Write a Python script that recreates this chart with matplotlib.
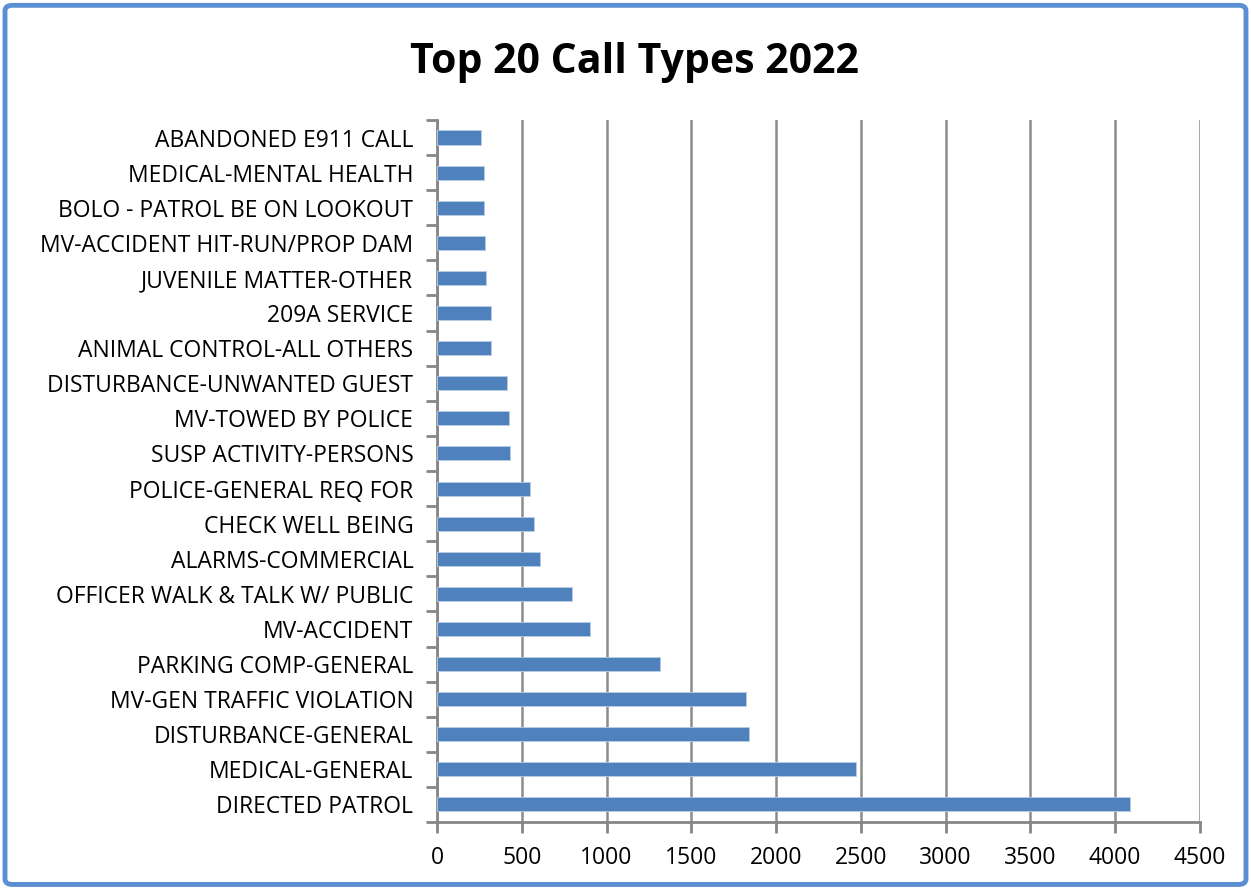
import numpy as np
import matplotlib
matplotlib.use('Agg')
import matplotlib.pyplot as plt
from matplotlib.patches import FancyBboxPatch

# Call types, bottom to top as drawn
call_types = ['DIRECTED PATROL', 'MEDICAL-GENERAL', 'DISTURBANCE-GENERAL',
              'MV-GEN TRAFFIC VIOLATION', 'PARKING COMP-GENERAL', 'MV-ACCIDENT',
              'OFFICER WALK & TALK W/ PUBLIC', 'ALARMS-COMMERCIAL', 'CHECK WELL BEING',
              'POLICE-GENERAL REQ FOR', 'SUSP ACTIVITY-PERSONS', 'MV-TOWED BY POLICE',
              'DISTURBANCE-UNWANTED GUEST', 'ANIMAL CONTROL-ALL OTHERS', '209A SERVICE',
              'JUVENILE MATTER-OTHER', 'MV-ACCIDENT HIT-RUN/PROP DAM',
              'BOLO - PATROL BE ON LOOKOUT', 'MEDICAL-MENTAL HEALTH', 'ABANDONED E911 CALL']
call_counts = [4090, 2472, 1841, 1821, 1315, 900, 795, 606, 575, 551,
               433, 425, 411, 317, 317, 291, 283, 277, 275, 260]
x_ticks = [0, 500, 1000, 1500, 2000, 2500, 3000, 3500, 4000, 4500]

plt.rcParams['font.family'] = ['Open Sans', 'DejaVu Sans']

fig = plt.figure(figsize=(12.51, 8.88), dpi=100)
ax = fig.add_axes([0.3493, 0.0743, 0.6099, 0.7906])

# outer chart border
border = FancyBboxPatch((0.004, 0.004), 0.992, 0.99, boxstyle='round,pad=0,rounding_size=0.006',
                        transform=fig.transFigure, fill=False, edgecolor='#5B8FD3', linewidth=3.5)
fig.patches.append(border)

y = np.arange(len(call_types))
ax.barh(y, call_counts, height=0.4, color='#4F81BD', edgecolor='#B9CDE5', linewidth=0.6, zorder=3)

ax.set_xlim(0, 4500)
ax.set_ylim(-0.5, len(call_types) - 0.5)
ax.set_xticks(x_ticks)
ax.set_yticks(y)
ax.set_yticklabels(call_types)
ax.set_yticks(np.arange(-0.5, len(call_types)), minor=True)

ax.grid(axis='x', color='#8C8C8C', linewidth=1.8, zorder=0)
for side in ['top', 'right']:
    ax.spines[side].set_visible(False)
for side in ['left', 'bottom']:
    ax.spines[side].set_color('#868686')
    ax.spines[side].set_linewidth(2)

ax.tick_params(axis='y', which='major', length=0, pad=17, labelsize=16.5)
ax.tick_params(axis='y', which='minor', length=8, width=2, color='#868686')
ax.tick_params(axis='x', length=8, width=2, color='#868686', labelsize=16.5, pad=9)

fig.text(0.507, 0.93, 'Top 20 Call Types 2022', ha='center', va='center',
         fontsize=29.5, fontweight='bold')

fig.savefig('out.png', dpi=100)
